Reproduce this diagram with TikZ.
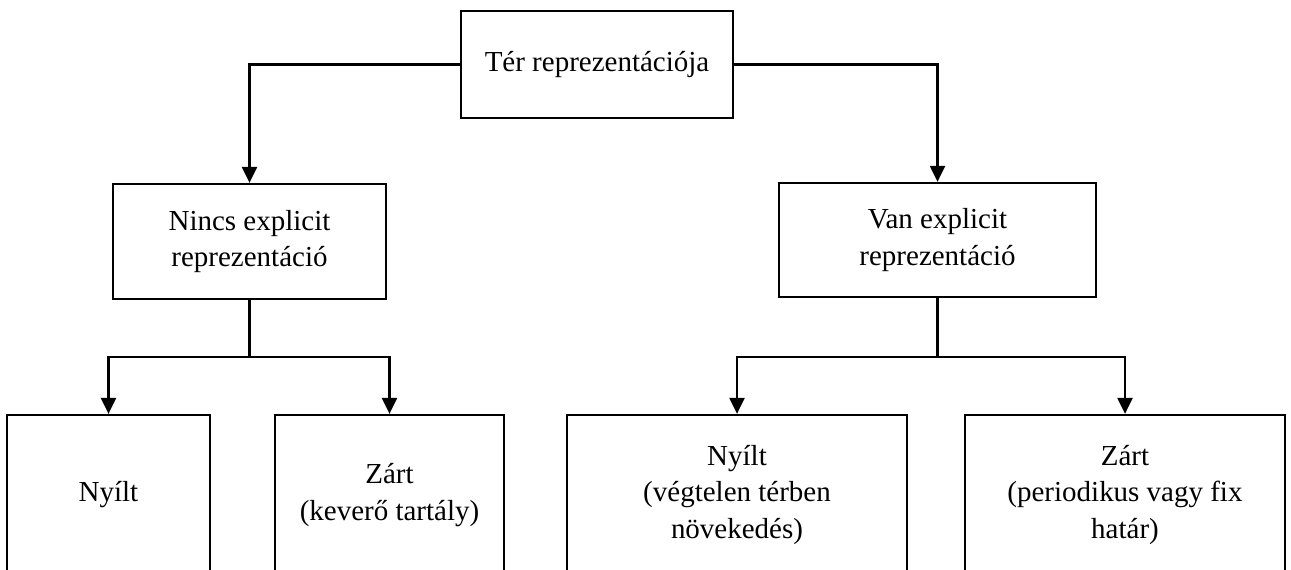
\documentclass[tikz,border=0pt]{standalone}
\usepackage{fontspec}
\setmainfont{Liberation Serif}
\usepackage{tikz}
\usetikzlibrary{arrows.meta}

\begin{document}
\begin{tikzpicture}[x=0.02cm,y=-0.02cm,
  box/.style={draw,line width=1.3pt,inner sep=0pt,align=center,
    font=\fontsize{16.5}{21}\selectfont},
  arr/.style={line width=1.3pt,-{Triangle[width=0.3cm,length=0.32cm]}},
  conn/.style={line width=1.3pt}]
\useasboundingbox (0,0) rectangle (1291,570);
\clip (0,0) rectangle (1291,570);
\node[box,minimum width=5.44cm,minimum height=2.14cm] (root) at (597,64.5) {Tér reprezentációja};
\node[box,minimum width=5.46cm,minimum height=2.3cm] (nincs) at (249.5,241.5) {Nincs explicit\\reprezentáció};
\node[box,minimum width=6.34cm,minimum height=2.28cm] (van) at (937.5,240) {Van explicit\\reprezentáció};
\node[box,minimum width=4.06cm,minimum height=3.2cm] (nyilta) at (108.5,495) {Nyílt};
\node[box,minimum width=4.58cm,minimum height=3.2cm] (zarta) at (389.5,495) {Zárt\\(keverő tartály)};
\node[box,minimum width=6.8cm,minimum height=3.2cm] (nyiltb) at (737,495) {Nyílt\\(végtelen térben\\növekedés)};
\node[box,minimum width=6.4cm,minimum height=3.2cm] (zartb) at (1125,495) {Zárt\\(periodikus vagy fix\\határ)};
\coordinate (forka) at (249.5,357);
\coordinate (forkb) at (937.5,357);
\draw[arr] (root.west) -| (nincs.north);
\draw[arr] (root.east) -| (van.north);
\draw[conn] (nincs.south) -- (forka);
\draw[arr] (forka) -| (nyilta.north);
\draw[arr] (forka) -| (zarta.north);
\draw[conn] (van.south) -- (forkb);
\draw[arr] (forkb) -| (nyiltb.north);
\draw[arr] (forkb) -| (zartb.north);
\end{tikzpicture}
\end{document}
